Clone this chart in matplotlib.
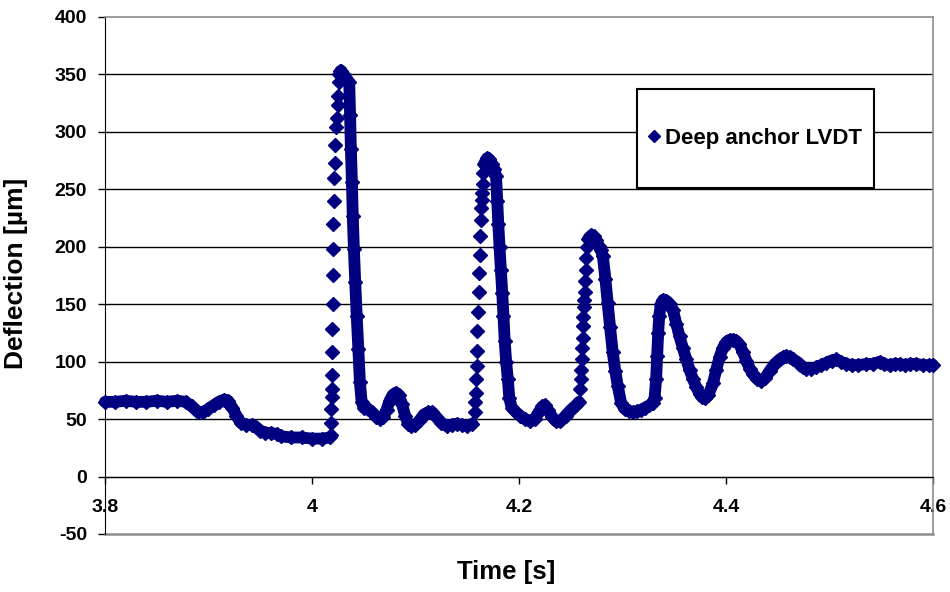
import matplotlib
matplotlib.use("Agg")
import matplotlib.pyplot as plt
from matplotlib.patches import Rectangle

plt.rcParams['font.family'] = ['Liberation Sans', 'DejaVu Sans']
plt.rcParams['font.weight'] = 'bold'
plt.rcParams['axes.unicode_minus'] = False

# readings taken off the chart, time [s] and deflection [um]
# slow part before the first load pulse
pre_time = [3.800, 3.810, 3.820, 3.830, 3.840, 3.850, 3.860, 3.870, 3.878, 3.884,
            3.890, 3.895, 3.900, 3.905, 3.910, 3.915, 3.919, 3.923, 3.927, 3.931,
            3.936, 3.942, 3.946, 3.950, 3.955, 3.960, 3.966, 3.970, 3.980, 3.990,
            4.000, 4.010, 4.017]
pre_defl = [65, 65, 66, 65, 65, 66, 65, 66, 65, 61,
            56, 56, 59, 62, 65, 67, 66, 60, 53, 47,
            45, 45, 43, 40, 38, 38, 37, 35, 34, 34,
            33, 33, 34]

# steep rises: separate diamonds visible
rise1_time = [4.0180, 4.0183, 4.0186, 4.0189, 4.0191, 4.0193, 4.0195, 4.0197, 4.0199, 4.0201,
              4.0203, 4.0205, 4.0208, 4.0212, 4.0218, 4.0224, 4.0232, 4.0240, 4.0247, 4.0253,
              4.0259]
rise1_defl = [36, 47, 59, 69, 76, 88, 108, 128, 150, 175,
              198, 220, 240, 260, 273, 289, 304, 312, 323, 331,
              343]

peak1_time = [4.0265, 4.0275, 4.0285, 4.0300, 4.0320, 4.0340, 4.0360, 4.0368, 4.0376, 4.0386,
              4.0394, 4.0405, 4.0418, 4.0432, 4.0448, 4.0463, 4.0480, 4.0500, 4.0540, 4.0580,
              4.0620, 4.0660, 4.0690, 4.0720, 4.0750, 4.0780, 4.0810, 4.0840, 4.0870, 4.0900,
              4.0930, 4.0960, 4.1000, 4.1040, 4.1080, 4.1120, 4.1160, 4.1200, 4.1250, 4.1300,
              4.1350, 4.1400, 4.1450, 4.1500, 4.1550]
peak1_defl = [350, 353, 353, 350, 348, 345, 343, 315, 285, 256,
              227, 198, 169, 140, 111, 82, 65, 60, 59, 56,
              52, 50, 52, 58, 66, 71, 73, 71, 63, 53,
              46, 44, 45, 49, 54, 56, 56, 52, 47, 44,
              45, 46, 45, 44, 46]

rise2_time = [4.1574, 4.1578, 4.1582, 4.1586, 4.1590, 4.1594, 4.1599, 4.1604, 4.1609, 4.1614,
              4.1619, 4.1624, 4.1629, 4.1634, 4.1638, 4.1642, 4.1648, 4.1655]
rise2_defl = [56, 65, 73, 85, 96, 109, 127, 143, 161, 177,
              193, 209, 223, 234, 241, 247, 255, 264]

peak2_time = [4.1662, 4.1690, 4.1715, 4.1740, 4.1760, 4.1778, 4.1790, 4.1800, 4.1812, 4.1825,
              4.1838, 4.1850, 4.1862, 4.1876, 4.1892, 4.1907, 4.1930, 4.1970, 4.2010, 4.2060,
              4.2110, 4.2150, 4.2190, 4.2225, 4.2250, 4.2280, 4.2320, 4.2360, 4.2400, 4.2450,
              4.2500, 4.2550, 4.2580]
peak2_defl = [272, 277, 276, 272, 268, 262, 240, 220, 200, 180,
              160, 140, 118, 100, 85, 68, 60, 56, 53, 50,
              48, 50, 56, 61, 62, 58, 52, 48, 48, 53,
              58, 62, 65]

rise3_time = [4.2590, 4.2596, 4.2601, 4.2606, 4.2610, 4.2614, 4.2618, 4.2622, 4.2626, 4.2630,
              4.2634, 4.2638, 4.2643, 4.2650, 4.2658]
rise3_defl = [76, 85, 93, 102, 112, 121, 131, 139, 148, 154,
              161, 170, 180, 190, 200]

# third peak, fourth pulse and the decay to the end
tail_time = [4.2668, 4.2700, 4.2720, 4.2745, 4.2770, 4.2790, 4.2810, 4.2835, 4.2857, 4.2880,
             4.2906, 4.2930, 4.2954, 4.2987, 4.3020, 4.3060, 4.3100, 4.3140, 4.3180, 4.3220,
             4.3260, 4.3290, 4.3310, 4.3325, 4.3335, 4.3345, 4.3355, 4.3370, 4.3395, 4.3425,
             4.3455, 4.3487, 4.3520, 4.3551, 4.3583, 4.3616, 4.3648, 4.3680, 4.3712, 4.3745,
             4.3770, 4.3795, 4.3830, 4.3874, 4.3906, 4.3938, 4.3970, 4.4003, 4.4035, 4.4067,
             4.4100, 4.4130, 4.4165, 4.4196, 4.4230, 4.4261, 4.4300, 4.4341, 4.4380, 4.4422,
             4.4470, 4.4520, 4.4555, 4.4583, 4.4620, 4.4650, 4.4700, 4.4740, 4.4776, 4.4820,
             4.4873, 4.4920, 4.4970, 4.5020, 4.5066, 4.5110, 4.5163, 4.5220, 4.5280, 4.5357,
             4.5420, 4.5486, 4.5530, 4.5582, 4.5630, 4.5679, 4.5730, 4.5780, 4.5840, 4.5900,
             4.5960, 4.6000]
tail_defl = [207, 210, 209, 206, 201, 197, 192, 172, 151, 130,
             108, 92, 79, 64, 59, 57, 56, 57, 58, 60,
             62, 64, 68, 85, 105, 125, 140, 150, 154, 153,
             150, 145, 133, 122, 112, 102, 93, 85, 78, 72,
             69, 68, 71, 81, 93, 104, 112, 117, 119, 119,
             118, 115, 108, 101, 94, 89, 85, 83, 86, 92,
             98, 102, 104, 105, 104, 102, 99, 95, 94, 94,
             95, 97, 99, 101, 102, 100, 98, 97, 97, 98,
             98, 100, 98, 97, 98, 98, 97, 98, 98, 97,
             97, 97]

x_ticks = [3.8, 4.0, 4.2, 4.4, 4.6]
x_tick_labels = ['3.8', '4', '4.2', '4.4', '4.6']
y_ticks = [-50, 0, 50, 100, 150, 200, 250, 300, 350, 400]
series_name = 'Deep anchor LVDT'

navy = '#000080'

fig = plt.figure(figsize=(9.5, 5.92), dpi=100)
ax = fig.add_axes([0.1105, 0.098, 0.8716, 0.8733])

# dense parts of the trace: thick line + diamonds
for t, d in [(pre_time, pre_defl), (peak1_time, peak1_defl),
             (peak2_time, peak2_defl), (tail_time, tail_defl)]:
    ax.plot(t, d, '-', color=navy, lw=8.5, solid_joinstyle='round',
            solid_capstyle='round', marker='D', ms=7, zorder=3, clip_on=False)

# steep rises: diamonds only
for i, (t, d) in enumerate([(rise1_time, rise1_defl), (rise2_time, rise2_defl),
                            (rise3_time, rise3_defl)]):
    ax.plot(t, d, 'D', color=navy, ms=7, ls='none', zorder=3, clip_on=False,
            label=series_name if i == 0 else None)

ax.set_xlim(3.8, 4.6)
ax.set_ylim(-50, 400)
ax.set_xticks(x_ticks)
ax.set_xticklabels(x_tick_labels)
ax.set_yticks(y_ticks)

ax.spines['bottom'].set_position(('data', 0))
ax.spines['bottom'].set_color('black')
ax.spines['left'].set_color('black')
for s in ['top', 'right']:
    ax.spines[s].set_color('#8c8c8c')
    ax.spines[s].set_linewidth(1.2)
ax.axhline(-50, color='#8c8c8c', lw=1.8, clip_on=False, zorder=2)

ax.set_axisbelow(True)
ax.yaxis.grid(True, color='black', lw=1)
gl = ax.get_ygridlines()
gl[0].set_visible(False)
gl[-1].set_visible(False)

ax.tick_params(axis='y', direction='out', length=5, width=1, pad=8, labelsize=14)
ax.tick_params(axis='x', direction='out', length=5, width=1, pad=11, labelsize=14)

ax.set_ylabel('Deflection [µm]', fontsize=19, fontweight='bold')
ax.yaxis.set_label_coords(-0.093, 0.505)
ax.set_xlabel('Time [s]', fontsize=18.5, fontweight='bold')
ax.xaxis.set_label_coords(0.485, -0.05)

# legend box
ax.add_patch(Rectangle((0.6425, 0.6692), 0.2862, 0.1915, transform=ax.transAxes,
                       facecolor='white', edgecolor='black', lw=1.5, zorder=4))
ax.legend(loc='center', bbox_to_anchor=(0.7856, 0.765), frameon=False,
          handlelength=0.5, handletextpad=0.25, markerscale=0.85,
          prop={'size': 16, 'weight': 'bold'})

fig.savefig('out.png', dpi=100)
